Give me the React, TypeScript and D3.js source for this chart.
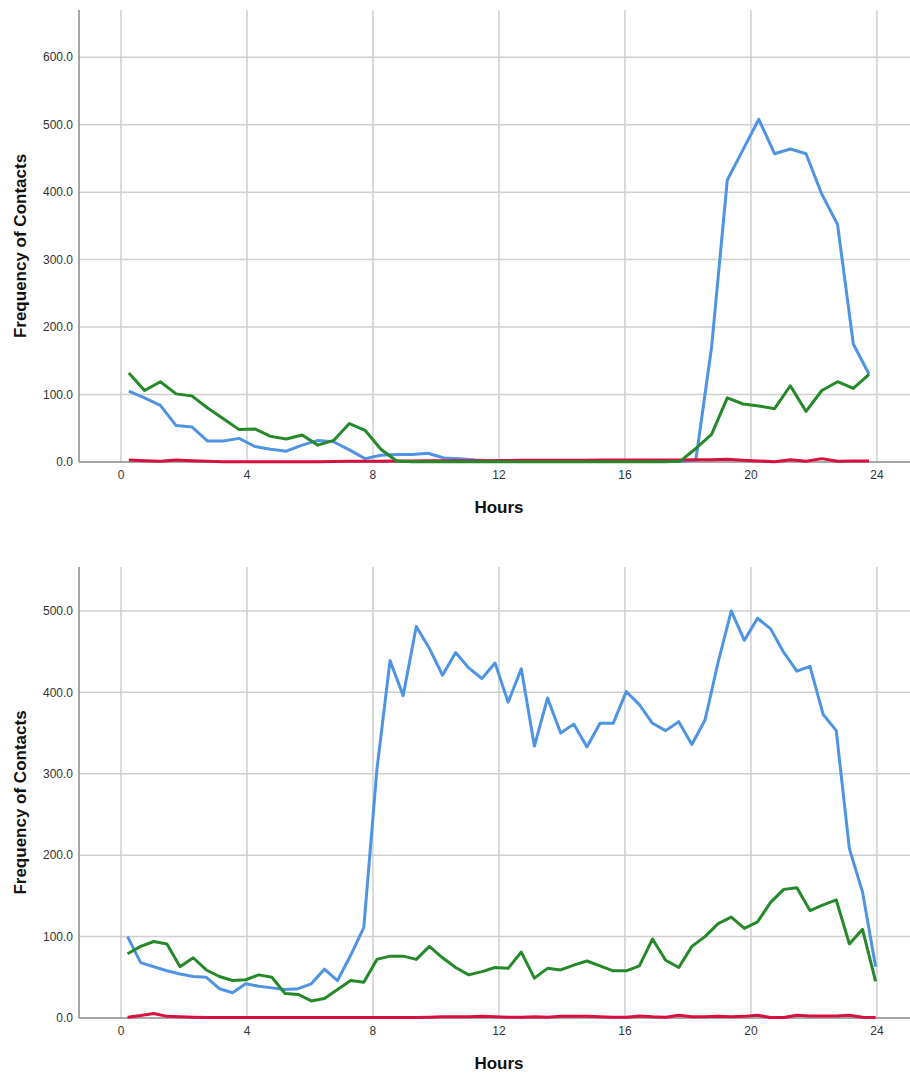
import React from "react";
import * as d3 from "d3";

// x tick values (hours) shared by both panels
const hourTicks = [0, 4, 8, 12, 16, 20, 24];

// top panel: 30-minute bins
const topHours = d3.range(48).map(k => 0.25 + 0.5 * k);
const topBlue = [105, 95, 84, 54, 52, 31, 31, 35, 23, 19, 16, 25, 32, 30, 18, 5, 10, 11, 11, 13, 6, 5, 3, 2,
	2, 2, 2, 1, 1, 1, 1, 1, 1, 1, 1, 1, 3, 170, 418, 463, 508, 457, 464, 457, 397, 352, 175, 130];
const topGreen = [132, 106, 119, 101, 98, 80, 64, 48, 49, 38, 34, 40, 25, 32, 57, 47, 19, 1.5, 0.5, 0.5, 0.5, 0.5, 0.5, 0.5,
	0.5, 0.5, 0.5, 0.5, 0.5, 0.5, 0.5, 0.5, 0.5, 0.5, 0.5, 1, 20, 41, 95, 86, 83, 79, 113, 75, 106, 119, 109, 130];
const topRed = [3, 2, 1, 3, 2, 1, 0.5, 0.5, 0.5, 0.5, 0.5, 0.5, 0.5, 0.8, 1, 1, 1.2, 1.5, 1.5, 1.8, 2, 2, 2, 2,
	2.2, 2.5, 2.5, 2.5, 2.5, 2.5, 2.8, 3, 3, 3, 3, 3, 3.4, 3.4, 4, 2.5, 1.5, 0.5, 3.4, 1, 5, 1, 1.5, 1.5];
const topTicks = [0, 100, 200, 300, 400, 500, 600];

// bottom panel: 25-minute bins
const bottomHours = d3.range(58).map(k => (12.5 + 25 * k) / 60);
const bottomBlue = [100, 68, 63, 58, 54, 51, 50, 36, 31, 42, 39, 37, 35, 36, 42, 60, 46, 77, 111, 305,
	439, 396, 481, 454, 421, 449, 430, 417, 436, 388, 429, 334, 393, 350, 361, 333, 362, 362, 401, 385,
	362, 353, 364, 336, 366, 437, 500, 464, 491, 478, 449, 426, 432, 373, 353, 208, 155, 63];
const bottomGreen = [79, 88, 94, 91, 63, 74, 59, 51, 46, 47, 53, 50, 30, 29, 21, 24, 35, 46, 44, 72,
	76, 76, 72, 88, 74, 62, 53, 57, 62, 61, 81, 49, 61, 59, 65, 70, 64, 58, 58, 64,
	97, 71, 62, 88, 100, 116, 124, 110, 118, 142, 158, 160, 132, 139, 145, 91, 109, 45];
const bottomRed = [1, 3, 5.5, 2, 1.5, 1, 0.5, 0.5, 0.5, 0.5, 0.5, 0.5, 0.5, 0.5, 0.5, 0.5, 0.5, 0.5, 0.5, 0.5,
	0.5, 0.5, 0.5, 1, 1.5, 1.5, 1.5, 2, 1.5, 1, 1, 1.5, 1, 2, 2, 2, 1.5, 1, 1, 2.5,
	1.5, 1, 3.5, 1.5, 1.5, 2, 1.5, 2, 3.5, 0.5, 0.5, 3.5, 2.5, 2.5, 2.5, 3.5, 1, 0.5];
const bottomTicks = [0, 100, 200, 300, 400, 500];

const colors = {blue: "#4f93e3", green: "#25892a", red: "#d8103f"};
const font = "'Liberation Sans', Arial, sans-serif";

const Panel = ({top, bottom, yMax, yTicks, hours, series}) => {

	let left = 79;
	let right = 910;

	let xScale = d3.scaleLinear().domain([-1.333, 25.05]).range([left, right]);
	let yScale = d3.scaleLinear().domain([0, yMax]).range([bottom, top]);

	let line = d3.line()
				.x((d, i) => xScale(hours[i]))
				.y(d => yScale(d));

	let midY = (top + bottom) / 2 + 10;

	return (
		<g>
			{hourTicks.map(t =>
				<line key={"v" + t} x1={xScale(t)} x2={xScale(t)} y1={top} y2={bottom}
					  stroke="#cfcfcf" strokeWidth={1.5} />
			)}
			{yTicks.filter(t => t > 0).map(t =>
				<line key={"h" + t} x1={left} x2={right} y1={yScale(t)} y2={yScale(t)}
					  stroke="#cfcfcf" strokeWidth={1.5} />
			)}
			<line x1={left} x2={left} y1={top} y2={bottom} stroke="#8a8a8a" strokeWidth={1.5} />
			<line x1={left} x2={right} y1={bottom} y2={bottom} stroke="#8a8a8a" strokeWidth={1.5} />

			{yTicks.map(t =>
				<text key={"yl" + t} x={left - 6} y={yScale(t)} dy="0.35em" textAnchor="end"
					  fontSize={12} fill="#333" fontFamily={font}>{t.toFixed(1)}</text>
			)}
			{hourTicks.map(t =>
				<text key={"xl" + t} x={xScale(t)} y={bottom + 17} textAnchor="middle"
					  fontSize={12} fill="#333" fontFamily={font}>{t}</text>
			)}

			{series.map(s =>
				<path key={s.name} d={line(s.values)} fill="none" stroke={s.color}
					  strokeWidth={3} strokeLinejoin="round" />
			)}

			<text x={xScale(12)} y={bottom + 51} textAnchor="middle" fontSize={17}
				  fontWeight="bold" fill="#111" fontFamily={font}>Hours</text>
			<text transform={`translate(26, ${midY}) rotate(-90)`} textAnchor="middle" fontSize={17}
				  fontWeight="bold" fill="#111" fontFamily={font}>Frequency of Contacts</text>
		</g>
	)
}

export default function App() {
	return (
		<svg width={910} height={1074} style={{position: "absolute", left: 0, top: 0, background: "#fff"}}>
			<Panel top={10} bottom={462} yMax={670} yTicks={topTicks} hours={topHours}
				   series={[
					   {name: "blue", color: colors.blue, values: topBlue},
					   {name: "red", color: colors.red, values: topRed},
					   {name: "green", color: colors.green, values: topGreen}
				   ]} />
			<Panel top={567} bottom={1018} yMax={554} yTicks={bottomTicks} hours={bottomHours}
				   series={[
					   {name: "blue", color: colors.blue, values: bottomBlue},
					   {name: "red", color: colors.red, values: bottomRed},
					   {name: "green", color: colors.green, values: bottomGreen}
				   ]} />
		</svg>
	)
}
